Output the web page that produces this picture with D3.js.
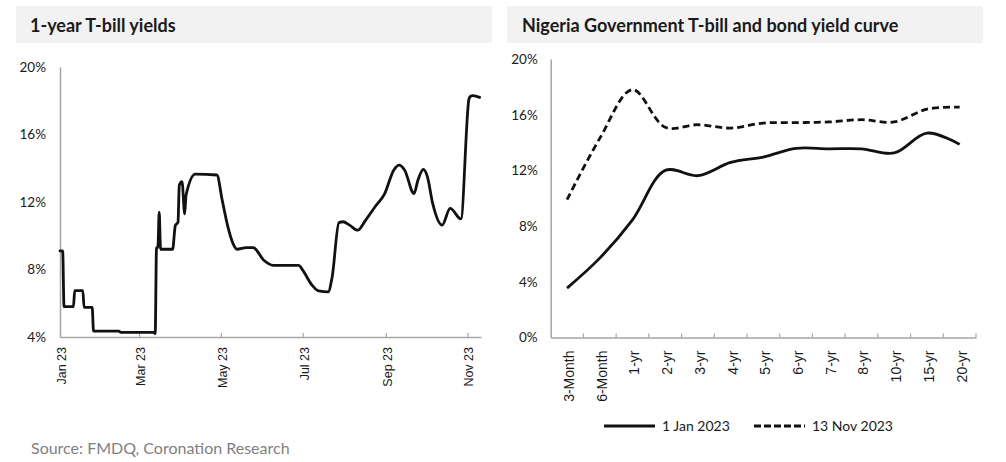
<!DOCTYPE html>
<html>
<head>
<meta charset="utf-8">
<script src="https://cdn.jsdelivr.net/npm/d3@7/dist/d3.min.js"></script>
<style>
  html, body { margin: 0; padding: 0; background: #fff; }
  svg { display: block; }
</style>
</head>
<body>
<svg id="chart" width="1006" height="462"></svg>
<script>
// ---------- Data ----------
const billDates = [
  "2023-01-01","2023-01-03","2023-01-04","2023-01-11","2023-01-12","2023-01-18","2023-01-19",
  "2023-01-25","2023-01-26","2023-02-14","2023-02-15","2023-03-12","2023-03-13","2023-03-14",
  "2023-03-15","2023-03-16","2023-03-17","2023-03-26","2023-03-28","2023-03-30","2023-03-31",
  "2023-04-02","2023-04-04","2023-04-05","2023-04-12","2023-04-28","2023-05-02","2023-05-06",
  "2023-05-10","2023-05-13","2023-05-20","2023-05-25","2023-06-02","2023-06-09","2023-06-28",
  "2023-07-01","2023-07-08","2023-07-13","2023-07-20","2023-07-23","2023-07-28","2023-07-31",
  "2023-08-05","2023-08-11","2023-08-17","2023-08-24","2023-08-31","2023-09-07","2023-09-11",
  "2023-09-15","2023-09-22","2023-09-25","2023-09-29","2023-10-02","2023-10-06","2023-10-13",
  "2023-10-19","2023-10-27","2023-11-02","2023-11-03","2023-11-05","2023-11-10"
];
const billYields = [
  9.1, 9.1, 5.8, 5.8, 6.75, 6.75, 5.75,
  5.75, 4.35, 4.35, 4.28, 4.28, 4.2, 9.3,
  9.3, 11.4, 9.2, 9.2, 10.6, 10.8, 13.0,
  13.2, 11.3, 12.4, 13.65, 13.6, 12.1, 10.6,
  9.55, 9.2, 9.3, 9.3, 8.55, 8.25, 8.25,
  7.96, 7.07, 6.73, 6.67, 7.56, 10.77, 10.83,
  10.63, 10.33, 10.93, 11.72, 12.47, 13.9, 14.19,
  13.9, 12.5, 13.3, 13.93, 13.5, 11.9, 10.63,
  11.62, 11.0, 18.1, 18.25, 18.3, 18.2
];
const billTickDates = ["2023-01-01","2023-03-01","2023-05-01","2023-07-01","2023-09-01","2023-11-01"];
const billYTicks = [4, 8, 12, 16, 20];

const tenors = ["3-Month","6-Month","1-yr","2-yr","3-yr","4-yr","5-yr","6-yr","7-yr","8-yr","10-yr","15-yr","20-yr"];
const curveJan = [3.55, 5.7, 8.45, 12.0, 11.62, 12.57, 12.96, 13.58, 13.55, 13.55, 13.25, 14.68, 13.87];
const curveNov = [9.9, 14.3, 17.8, 15.1, 15.28, 15.04, 15.4, 15.43, 15.48, 15.64, 15.48, 16.4, 16.55];
const curveYTicks = [0, 4, 8, 12, 16, 20];
const seriesNames = ["1 Jan 2023", "13 Nov 2023"];

const titles = ["1-year T-bill yields", "Nigeria Government T-bill and bond yield curve"];
const sourceText = "Source: FMDQ, Coronation Research";

// ---------- Setup ----------
const svg = d3.select("#chart");
const parse = d3.timeParse("%Y-%m-%d");
const LATO = "Lato, 'Open Sans', sans-serif";
const ARIAL = "'Liberation Sans', Arial, sans-serif";
const AXIS_COL = "#a6a6a6";
const LINE_COL = "#111111";

// Title bands
const bands = [{x: 16, w: 476, t: titles[0], tx: 30}, {x: 507, w: 476, t: titles[1], tx: 522}];
bands.forEach(b => {
  svg.append("rect").attr("x", b.x).attr("y", 6).attr("width", b.w).attr("height", 37).attr("fill", "#f2f2f2");
  svg.append("text").attr("x", b.tx).attr("y", 32).text(b.t)
    .attr("font-family", LATO).attr("font-weight", 700).attr("font-size", 18).attr("fill", "#1a1a1a");
});

// ---------- Left chart ----------
const billData = billDates.map((d, i) => ({date: parse(d), v: billYields[i]}));
const xL = d3.scaleTime().domain([parse("2023-01-01"), parse("2023-11-11")]).range([60, 481]);
const yL = d3.scaleLinear().domain([4, 20]).range([337, 67]);

const gL = svg.append("g");
// y axis
const yAxisL = gL.append("g").attr("transform", "translate(60,0)")
  .call(d3.axisLeft(yL).tickValues(billYTicks).tickSize(0).tickPadding(14).tickFormat(d => d + "%"));
yAxisL.select(".domain").attr("stroke", AXIS_COL).attr("stroke-width", 1.5);
yAxisL.selectAll("text").attr("font-family", LATO).attr("font-size", 13.5).attr("fill", "#1a1a1a");

// x axis
const xAxisL = gL.append("g").attr("transform", "translate(0,337)")
  .call(d3.axisBottom(xL).tickValues(billTickDates.map(parse)).tickSizeInner(-4).tickSizeOuter(0)
    .tickFormat(d3.timeFormat("%b %y")));
xAxisL.select(".domain").attr("stroke", AXIS_COL).attr("stroke-width", 1.5);
xAxisL.selectAll(".tick line").attr("stroke", AXIS_COL).attr("stroke-width", 1.2);
xAxisL.selectAll(".tick text")
  .attr("font-family", ARIAL).attr("font-size", 12.5).attr("fill", "#1a1a1a")
  .attr("text-anchor", "end").attr("y", 0).attr("dy", "0.35em")
  .attr("transform", "translate(1,10) rotate(-90)");

gL.append("path").datum(billData)
  .attr("fill", "none").attr("stroke", LINE_COL).attr("stroke-width", 2.8)
  .attr("stroke-linejoin", "round").attr("stroke-linecap", "round")
  .attr("d", d3.line().x(d => xL(d.date)).y(d => yL(d.v)).curve(d3.curveMonotoneX));

// ---------- Right chart ----------
const xR = d3.scaleBand().domain(tenors).range([550.7, 976]).padding(0);
const yR = d3.scaleLinear().domain([0, 20]).range([337.5, 59]);
const gR = svg.append("g");

const yAxisR = gR.append("g").attr("transform", "translate(550.7,0)")
  .call(d3.axisLeft(yR).tickValues(curveYTicks).tickSize(0).tickPadding(13).tickFormat(d => d + "%"));
yAxisR.select(".domain").attr("stroke", AXIS_COL).attr("stroke-width", 1.5);
yAxisR.selectAll("text").attr("font-family", LATO).attr("font-size", 13.5).attr("fill", "#1a1a1a");

const xAxisR = gR.append("g").attr("transform", "translate(0,337.5)")
  .call(d3.axisBottom(xR).tickSize(0).tickSizeOuter(0));
xAxisR.select(".domain").attr("stroke", AXIS_COL).attr("stroke-width", 1.5);
// category boundary ticks (pointing inward)
gR.append("g").selectAll("line")
  .data(tenors)
  .join("line")
  .attr("x1", d => xR(d) + xR.bandwidth()).attr("x2", d => xR(d) + xR.bandwidth())
  .attr("y1", 337.5).attr("y2", 333.5)
  .attr("stroke", AXIS_COL).attr("stroke-width", 1.2);
xAxisR.selectAll(".tick text")
  .attr("font-family", ARIAL).attr("font-size", 14).attr("fill", "#1a1a1a")
  .attr("text-anchor", "end").attr("y", 0).attr("dy", "0.35em")
  .attr("transform", "translate(2,13) rotate(-90)");

const lineR = d3.line().x((d, i) => xR(tenors[i]) + xR.bandwidth() / 2).y(d => yR(d))
  .curve(d3.curveCatmullRom.alpha(0.5));
const seriesR = [
  {name: seriesNames[0], values: curveJan, dash: null},
  {name: seriesNames[1], values: curveNov, dash: "7,4"}
];
seriesR.forEach(s => {
  gR.append("path").datum(s.values)
    .attr("fill", "none").attr("stroke", LINE_COL).attr("stroke-width", 2.8)
    .attr("stroke-dasharray", s.dash)
    .attr("d", lineR);
});

// Legend
const legendX = [604, 754];
seriesR.forEach((s, i) => {
  const lx = legendX[i];
  svg.append("line").attr("x1", lx).attr("x2", lx + 51).attr("y1", 426).attr("y2", 426)
    .attr("stroke", LINE_COL).attr("stroke-width", 3).attr("stroke-dasharray", s.dash ? "7,3" : null);
  svg.append("text").attr("x", lx + 58).attr("y", 426).attr("dy", "0.35em").text(s.name)
    .attr("font-family", LATO).attr("font-size", 14).attr("fill", "#1a1a1a");
});

// Source
svg.append("text").attr("x", 31).attr("y", 454).text(sourceText)
  .attr("font-family", LATO).attr("font-size", 16).attr("fill", "#7f7f7f");
</script>
</body>
</html>
